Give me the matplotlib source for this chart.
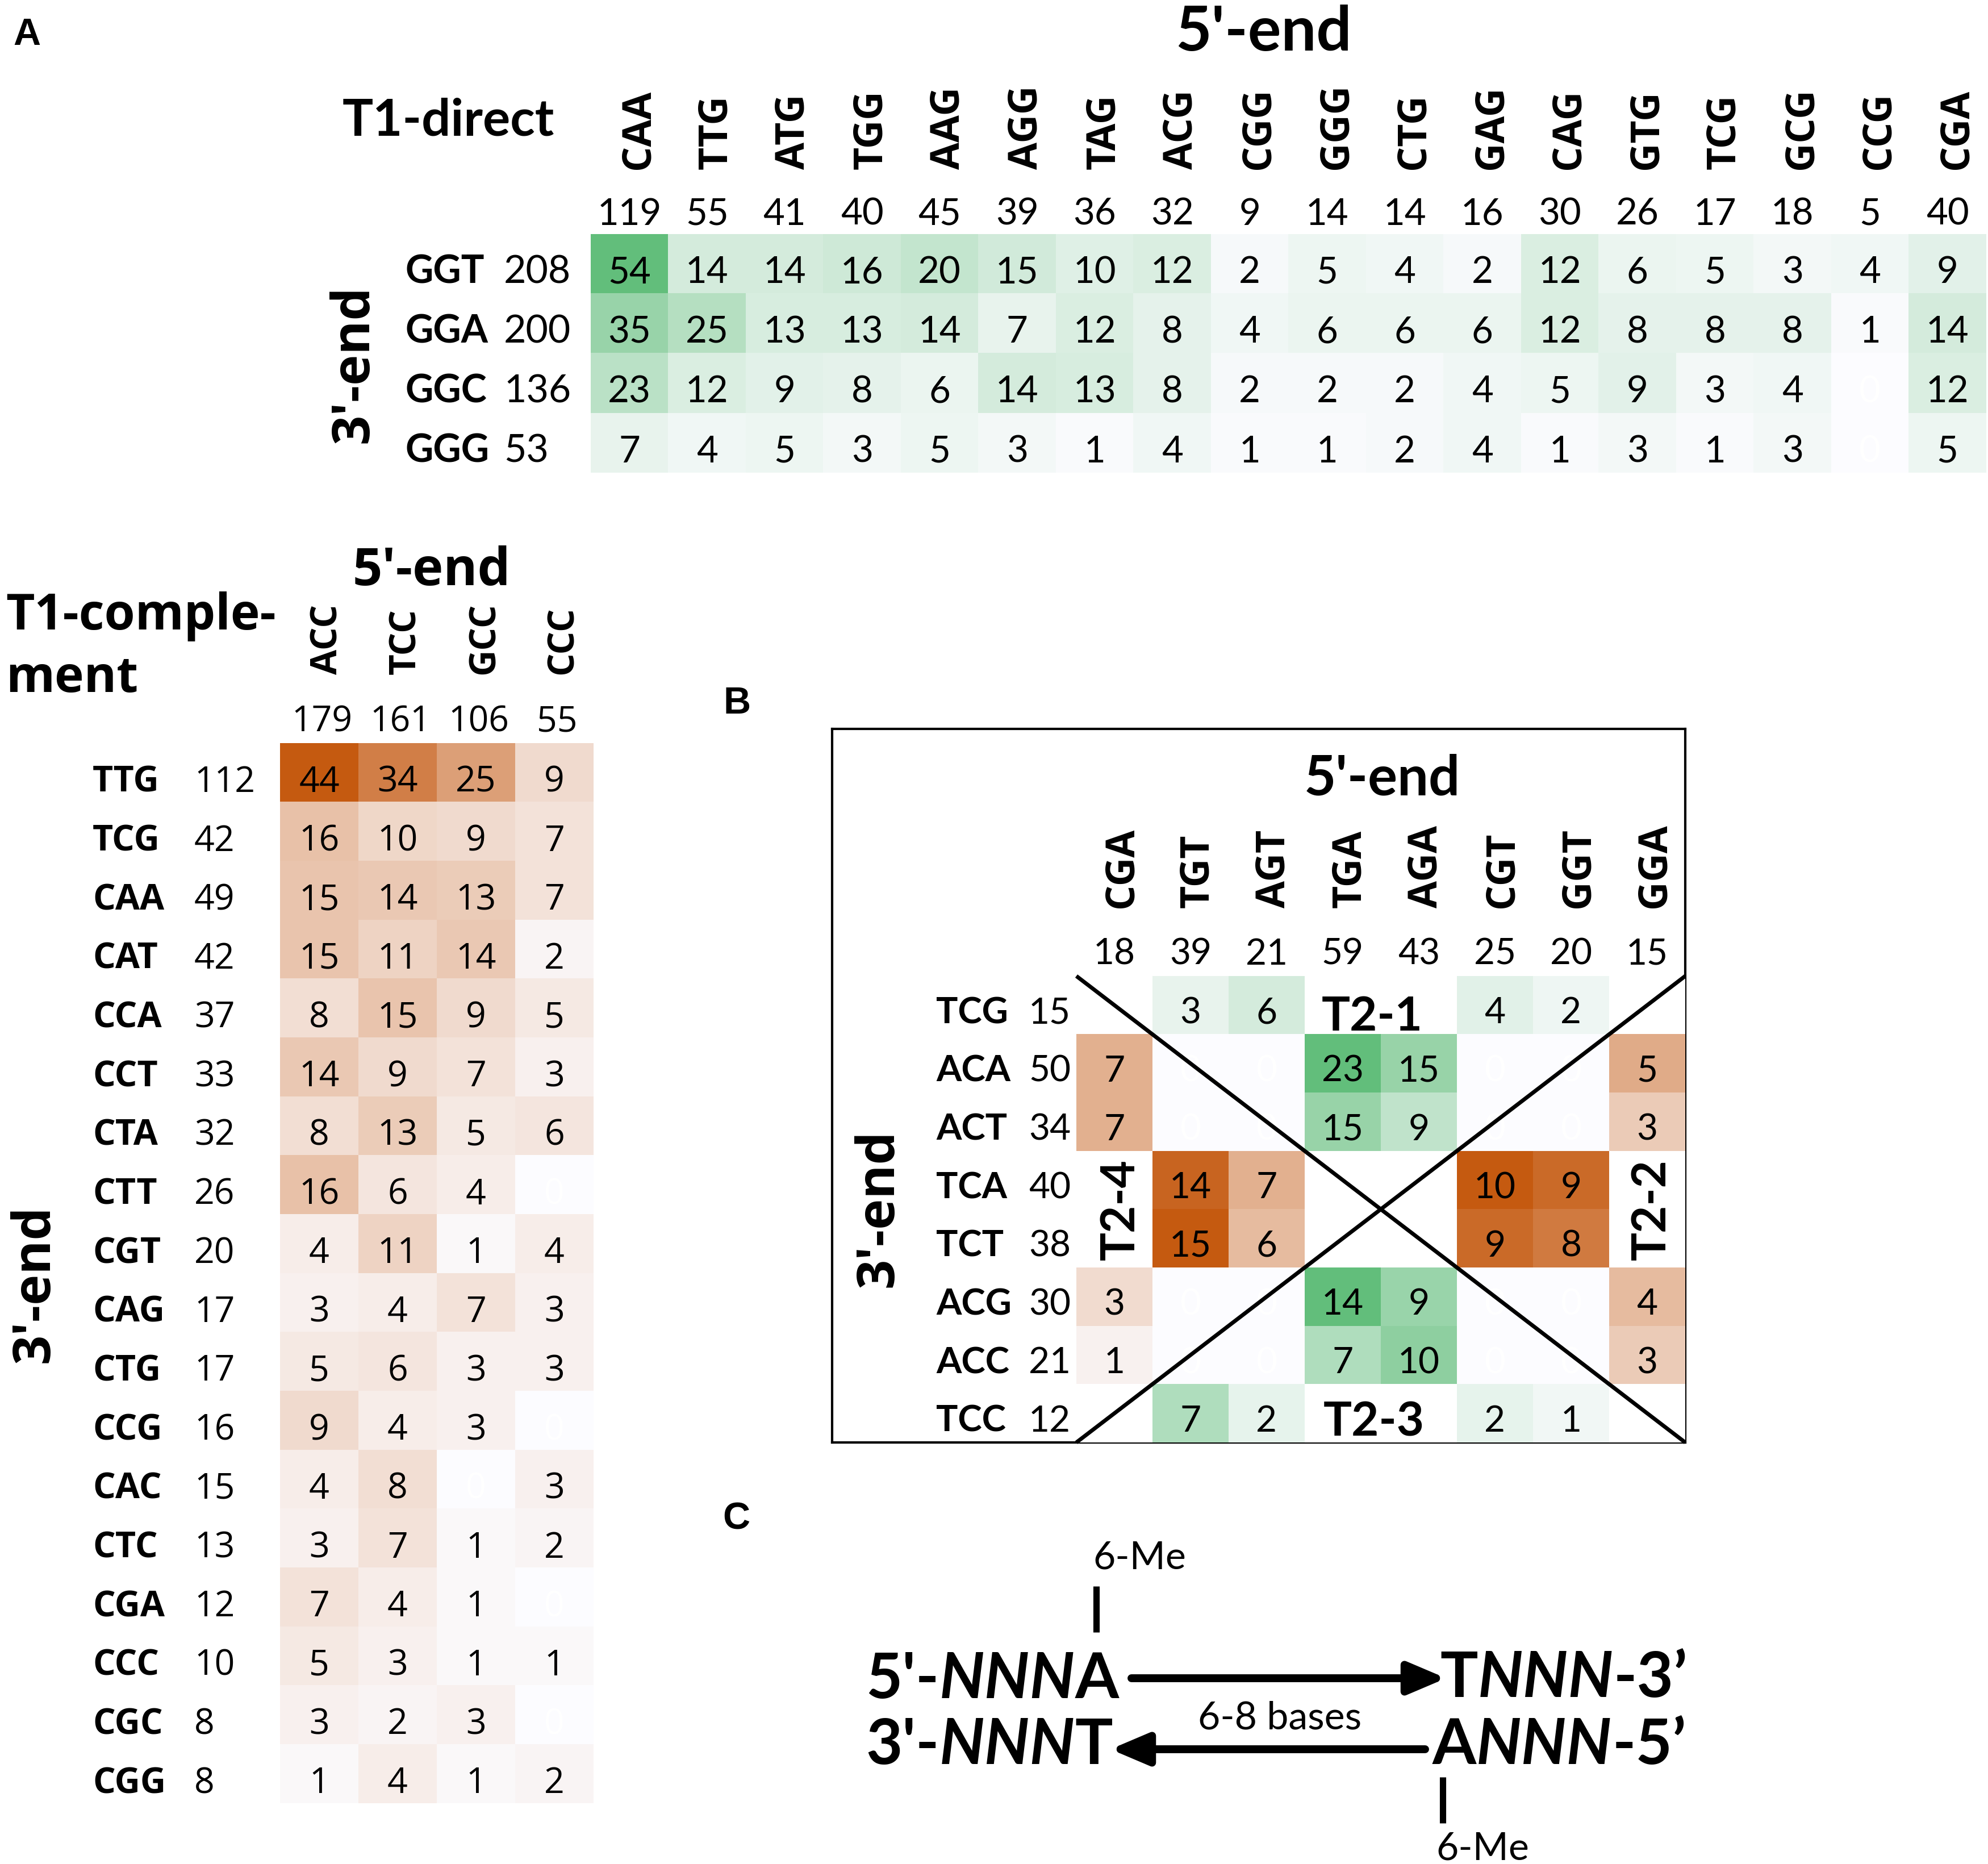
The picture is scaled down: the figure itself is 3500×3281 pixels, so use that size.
import numpy as np
import matplotlib
matplotlib.use("Agg")
import matplotlib.pyplot as plt
from matplotlib import transforms
from matplotlib.colors import to_rgb

# ---------------- data ----------------
nan = np.nan

top_cols = ['CAA', 'TTG', 'ATG', 'TGG', 'AAG', 'AGG', 'TAG', 'ACG', 'CGG',
            'GGG', 'CTG', 'GAG', 'CAG', 'GTG', 'TCG', 'GCG', 'CCG', 'CGA']
top_col_tot = [119, 55, 41, 40, 45, 39, 36, 32, 9, 14, 14, 16, 30, 26, 17, 18, 5, 40]
top_rows = ['GGT', 'GGA', 'GGC', 'GGG']
top_row_tot = [208, 200, 136, 53]
top_vals = [
    [54, 14, 14, 16, 20, 15, 10, 12, 2, 5, 4, 2, 12, 6, 5, 3, 4, 9],
    [35, 25, 13, 13, 14, 7, 12, 8, 4, 6, 6, 6, 12, 8, 8, 8, 1, 14],
    [23, 12, 9, 8, 6, 14, 13, 8, 2, 2, 2, 4, 5, 9, 3, 4, 0, 12],
    [7, 4, 5, 3, 5, 3, 1, 4, 1, 1, 2, 4, 1, 3, 1, 3, 0, 5],
]

comp_cols = ['ACC', 'TCC', 'GCC', 'CCC']
comp_col_tot = [179, 161, 106, 55]
comp_rows = ['TTG', 'TCG', 'CAA', 'CAT', 'CCA', 'CCT', 'CTA', 'CTT', 'CGT',
             'CAG', 'CTG', 'CCG', 'CAC', 'CTC', 'CGA', 'CCC', 'CGC', 'CGG']
comp_row_tot = [112, 42, 49, 42, 37, 33, 32, 26, 20, 17, 17, 16, 15, 13, 12, 10, 8, 8]
comp_vals = [
    [44, 34, 25, 9], [16, 10, 9, 7], [15, 14, 13, 7], [15, 11, 14, 2],
    [8, 15, 9, 5], [14, 9, 7, 3], [8, 13, 5, 6], [16, 6, 4, 0],
    [4, 11, 1, 4], [3, 4, 7, 3], [5, 6, 3, 3], [9, 4, 3, 0],
    [4, 8, 0, 3], [3, 7, 1, 2], [7, 4, 1, 0], [5, 3, 1, 1],
    [3, 2, 3, 0], [1, 4, 1, 2],
]

b_cols = ['CGA', 'TGT', 'AGT', 'TGA', 'AGA', 'CGT', 'GGT', 'GGA']
b_col_tot = [18, 39, 21, 59, 43, 25, 20, 15]
b_rows = ['TCG', 'ACA', 'ACT', 'TCA', 'TCT', 'ACG', 'ACC', 'TCC']
b_row_tot = [15, 50, 34, 40, 38, 30, 21, 12]
b_vals = [
    [nan, 3, 6, nan, nan, 4, 2, nan],
    [7, 0, 0, 23, 15, 0, 0, 5],
    [7, 0, 0, 15, 9, 0, 0, 3],
    [nan, 14, 7, nan, nan, 10, 9, nan],
    [nan, 15, 6, nan, nan, 9, 8, nan],
    [3, 0, 0, 14, 9, 0, 0, 4],
    [1, 0, 0, 7, 10, 0, 0, 3],
    [nan, 7, 2, nan, nan, 2, 1, nan],
]
b_region_names = {'top': 'T2-1', 'right': 'T2-2', 'bottom': 'T2-3', 'left': 'T2-4'}

GREEN = '#63BE7B'
ORANGE = '#C55A11'
LOW = '#FCFCFF'

CAL = 'Lato'          # narrow, Calibri-like
SEG = 'Open Sans'     # Segoe-like
ARI = 'Liberation Sans'

# ---------------- figure ----------------
W, H = 3500, 3281
DPI = 100
fig = plt.figure(figsize=(W / DPI, H / DPI), dpi=DPI)
fig.patch.set_facecolor('white')

bg = fig.add_axes([0, 0, 1, 1])
bg.set_xlim(0, W)
bg.set_ylim(H, 0)
bg.axis('off')


def px_axes(left, top, right, bottom, z=1):
    ax = fig.add_axes([left / W, 1 - bottom / H, (right - left) / W, (bottom - top) / H])
    ax.set_zorder(z)
    return ax


def off(ax, dx=0, dy=0):
    # pixel offset, dy positive = downward
    return transforms.offset_copy(ax.transData, fig=fig, x=dx, y=-dy, units='dots')


def shade(v, vmax, hi):
    lo = np.array(to_rgb(LOW))
    if np.isnan(v):
        return np.ones(3)
    return lo + (np.array(to_rgb(hi)) - lo) * (v / vmax)


def draw_cells(ax, vals, rgb, font, size, dy):
    ax.imshow(rgb, aspect='auto', interpolation='nearest')
    ax.set_axis_off()
    for i, row in enumerate(vals):
        for j, v in enumerate(row):
            if np.isnan(v):
                continue
            ax.text(j, i, '%d' % v, ha='center', va='baseline', fontsize=size,
                    family=font, color='white' if v == 0 else 'black',
                    transform=off(ax, 0, dy), clip_on=False)


def col_labels(ax, cols, font, size, dx, dy):
    for j, c in enumerate(cols):
        ax.text(j, -0.5, c, rotation=90, rotation_mode='anchor', ha='left',
                va='center_baseline', fontsize=size, family=font, fontweight='bold',
                transform=off(ax, dx, dy), clip_on=False)


def col_totals(ax, tots, font, size, dx, dy):
    for j, t in enumerate(tots):
        ax.text(j, -0.5, str(t), ha='center', va='baseline', fontsize=size,
                family=font, transform=off(ax, dx, dy), clip_on=False)


def row_labels(ax, rows, tots, font, size, dx_lab, dx_tot, dy, tot_ha='left'):
    for i, (r, t) in enumerate(zip(rows, tots)):
        ax.text(-0.5, i, r, ha='left', va='baseline', fontsize=size, family=font,
                fontweight='bold', transform=off(ax, dx_lab, dy), clip_on=False)
        ax.text(-0.5, i, str(t), ha=tot_ha, va='baseline', fontsize=size,
                family=font, transform=off(ax, dx_tot, dy), clip_on=False)


# ---------------- panel A, T1-direct ----------------
axA = px_axes(1040, 412, 3497, 832)
tv = np.array(top_vals, dtype=float)
rgbA = np.array([[shade(v, np.nanmax(tv), GREEN) for v in row] for row in tv])
draw_cells(axA, tv, rgbA, CAL, 47, 34)
col_labels(axA, top_cols, SEG, 50, 8, -114)
col_totals(axA, top_col_tot, CAL, 47, 0, -16)
row_labels(axA, top_rows, top_row_tot, CAL, 49, -326, -153, 34)

bg.text(2224, 89, "5'-end", ha='center', va='baseline', fontsize=79,
        family=CAL, fontweight='bold')
bg.text(603, 238, 'T1-direct', ha='left', va='baseline', fontsize=65,
        family=CAL, fontweight='bold')
bg.text(612, 641, "3'-end", rotation=90, rotation_mode='anchor', ha='center',
        va='center_baseline', fontsize=66, family=SEG, fontweight='bold')
bg.text(23, 79, 'A', ha='left', va='baseline', fontsize=48, family=ARI,
        fontweight='bold')

# ---------------- panel A, T1-complement ----------------
axC = px_axes(493, 1308, 1045, 3174)
cv = np.array(comp_vals, dtype=float)
rgbC = np.array([[shade(v, np.nanmax(cv), ORANGE) for v in row] for row in cv])
draw_cells(axC, cv, rgbC, SEG, 45, 34)
col_labels(axC, comp_cols, SEG, 46, 7, -121)
col_totals(axC, comp_col_tot, SEG, 45, 5, -21)
row_labels(axC, comp_rows, comp_row_tot, SEG, 45, -330, -151, 34)

bg.text(760, 1030, "5'-end", ha='center', va='baseline', fontsize=66,
        family=SEG, fontweight='bold')
bg.text(10, 1108, 'T1-comple-', ha='left', va='baseline', fontsize=63,
        family=SEG, fontweight='bold')
bg.text(10, 1218, 'ment', ha='left', va='baseline', fontsize=63,
        family=SEG, fontweight='bold')
bg.text(50, 2260, "3'-end", rotation=90, rotation_mode='anchor', ha='center',
        va='center_baseline', fontsize=66, family=SEG, fontweight='bold')

# ---------------- panel B ----------------
boxB = px_axes(1465, 1283, 2967, 2539, z=0)
boxB.set_xticks([])
boxB.set_yticks([])
for s in boxB.spines.values():
    s.set_linewidth(3)
boxB.patch.set_alpha(0)

axB = px_axes(1895, 1718, 2967, 2539, z=2)
bv = np.array(b_vals, dtype=float)
n = bv.shape[0]


def region(i, j):
    u, v = (j + 0.5) / n, (i + 0.5) / n
    if v < u and v < 1 - u:
        return 'top'
    if v > u and v > 1 - u:
        return 'bottom'
    if u < v and u < 1 - v:
        return 'left'
    return 'right'


reg = [[region(i, j) for j in range(n)] for i in range(n)]
reg_max = {}
for name in b_region_names:
    sel = [bv[i, j] for i in range(n) for j in range(n) if reg[i][j] == name]
    reg_max[name] = np.nanmax(sel)
rgbB = np.array([[shade(bv[i, j], reg_max[reg[i][j]],
                        GREEN if reg[i][j] in ('top', 'bottom') else ORANGE)
                  for j in range(n)] for i in range(n)])
draw_cells(axB, bv, rgbB, CAL, 46, 32)
col_labels(axB, b_cols, SEG, 50, 5, -120)
col_totals(axB, b_col_tot, CAL, 46, 0, -20)
row_labels(axB, b_rows, b_row_tot, CAL, 46, -247, -10, 32, tot_ha='right')

x0, x1 = axB.get_xlim()
y0, y1 = axB.get_ylim()
axB.plot([x0, x1], [y1, y0], color='black', lw=5, solid_capstyle='butt',
         clip_on=False, zorder=5)
axB.plot([x0, x1], [y0, y1], color='black', lw=5, solid_capstyle='butt',
         clip_on=False, zorder=5)
axB.set_xlim(x0, x1)
axB.set_ylim(y0, y1)

mid = (n - 1) / 2
axB.text(mid, 0, b_region_names['top'], ha='center', va='baseline', fontsize=60,
         family=CAL, fontweight='bold', transform=off(axB, -15, 45))
axB.text(mid, n - 1, b_region_names['bottom'], ha='center', va='baseline', fontsize=60,
         family=CAL, fontweight='bold', transform=off(axB, -12, 40))
axB.text(0, mid, b_region_names['left'], rotation=90, rotation_mode='anchor',
         ha='center', va='center_baseline', fontsize=60, family=CAL,
         fontweight='bold', transform=off(axB, 4, 0))
axB.text(n - 1, mid, b_region_names['right'], rotation=90, rotation_mode='anchor',
         ha='center', va='center_baseline', fontsize=60, family=CAL,
         fontweight='bold', transform=off(axB, 1, 0))

bg.text(2433, 1399, "5'-end", ha='center', va='baseline', fontsize=70,
        family=CAL, fontweight='bold')
bg.text(1537, 2127, "3'-end", rotation=90, rotation_mode='anchor', ha='center',
        va='center_baseline', fontsize=66, family=SEG, fontweight='bold')
bg.text(1273, 1256, 'B', ha='left', va='baseline', fontsize=48, family=ARI,
        fontweight='bold')

# ---------------- panel C ----------------
bg.text(1272, 2692, 'C', ha='left', va='baseline', fontsize=48, family=ARI,
        fontweight='bold')


def seq_text(x, y, parts, size=80):
    t = bg.text(x, y, parts[0][0], ha='left', va='baseline', fontsize=size,
                family=CAL, fontweight='bold', fontstyle=parts[0][1])
    for s, style in parts[1:]:
        t = bg.annotate(s, xy=(1, 0), xycoords=t, ha='left', va='bottom',
                        fontsize=size, family=CAL, fontweight='bold', fontstyle=style)


seq_text(1524, 2989, [("5'-", 'normal'), ('NNN', 'italic'), ('A', 'normal')])
seq_text(1524, 3105, [("3'-", 'normal'), ('NNN', 'italic'), ('T', 'normal')])
seq_text(2535, 2987, [('T', 'normal'), ('NNN', 'italic'), ('-3\u2019', 'normal')])
seq_text(2522, 3105, [('A', 'normal'), ('NNN', 'italic'), ('-5\u2019', 'normal')])

arrow = dict(arrowstyle='-|>,head_length=0.4,head_width=0.17', color='black',
             lw=10, shrinkA=0, shrinkB=0, mutation_scale=100)
bg.annotate('', xy=(2546, 2954), xytext=(1992, 2954), arrowprops=arrow)
bg.annotate('', xy=(1955, 3079), xytext=(2509, 3079), arrowprops=arrow)

bg.plot([1930, 1930], [2792, 2873], color='black', lw=8, solid_capstyle='butt')
bg.plot([2540, 2540], [3128, 3209], color='black', lw=8, solid_capstyle='butt')
bg.text(1924, 2762, '6-Me', ha='left', va='baseline', fontsize=49, family=CAL)
bg.text(2528, 3273, '6-Me', ha='left', va='baseline', fontsize=49, family=CAL)
bg.text(2253, 3044, '6-8 bases', ha='center', va='baseline', fontsize=49, family=CAL)

fig.savefig('out.png', dpi=DPI, facecolor='white')
